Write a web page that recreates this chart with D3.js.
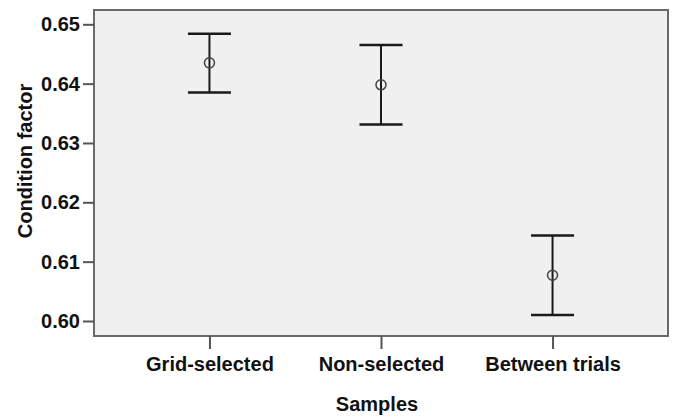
<!DOCTYPE html>
<html>
<head>
<meta charset="utf-8">
<script src="https://cdn.jsdelivr.net/npm/d3@7"></script>
<style>
  body { margin: 0; background: #fff; }
  text { font-family: "Liberation Sans", Arial, sans-serif; font-weight: bold; fill: #111; }
</style>
</head>
<body>
<svg id="chart" width="673" height="418"></svg>
<script>
// Mean condition factor with 95% CI per sample group.
var samples = ['Grid-selected', 'Non-selected', 'Between trials'];
var means = [0.6435, 0.6398, 0.6077];
var upper = [0.6484, 0.6465, 0.6144];
var lower = [0.6385, 0.6331, 0.6010];
var yTicks = [0.60, 0.61, 0.62, 0.63, 0.64, 0.65];

var svg = d3.select('#chart');
var plot = { left: 94, right: 668, top: 10, bottom: 336 };

var x = d3.scalePoint()
  .domain(samples)
  .range([plot.left, plot.right])
  .padding(0.673);

var y = d3.scaleLinear()
  .domain([0.60, 0.65])
  .range([321, 24.3]);

// Plot background and frame.
svg.append('rect')
  .attr('x', plot.left)
  .attr('y', plot.top)
  .attr('width', plot.right - plot.left)
  .attr('height', plot.bottom - plot.top)
  .attr('fill', '#f0f0f0')
  .attr('stroke', '#6a6a6a')
  .attr('stroke-width', 2);

// Left axis.
var yAxis = svg.append('g')
  .attr('transform', 'translate(' + plot.left + ',0)')
  .call(d3.axisLeft(y)
    .tickValues(yTicks)
    .tickSize(11)
    .tickPadding(3)
    .tickFormat(d3.format('.2f')));
yAxis.select('.domain').remove();
yAxis.selectAll('line').attr('stroke', '#555').attr('stroke-width', 2);
yAxis.selectAll('text').attr('font-size', 20).attr('fill', '#111')
  .style('font-family', '"Liberation Sans", Arial, sans-serif').style('font-weight', 'bold');

// Bottom axis.
var xAxis = svg.append('g')
  .attr('transform', 'translate(0,' + plot.bottom + ')')
  .call(d3.axisBottom(x).tickSize(13).tickPadding(8));
xAxis.select('.domain').remove();
xAxis.selectAll('line').attr('stroke', '#555').attr('stroke-width', 2);
xAxis.selectAll('text').attr('font-size', 20).attr('fill', '#111')
  .style('font-family', '"Liberation Sans", Arial, sans-serif').style('font-weight', 'bold');

// Axis titles.
svg.append('text')
  .attr('transform', 'translate(32,161) rotate(-90)')
  .attr('text-anchor', 'middle')
  .attr('font-size', 20)
  .text('Condition factor');

svg.append('text')
  .attr('x', 377)
  .attr('y', 411)
  .attr('text-anchor', 'middle')
  .attr('font-size', 20)
  .text('Samples');

// Error bars.
var capHalf = 21.5;
var bars = svg.append('g').selectAll('g')
  .data(samples)
  .enter().append('g');

bars.append('line')
  .attr('x1', function(d) { return x(d); })
  .attr('x2', function(d) { return x(d); })
  .attr('y1', function(d, i) { return y(upper[i]); })
  .attr('y2', function(d, i) { return y(lower[i]); })
  .attr('stroke', '#1a1a1a')
  .attr('stroke-width', 2);

bars.selectAll('line.cap')
  .data(function(d, i) { return [[d, upper[i]], [d, lower[i]]]; })
  .enter().append('line')
  .attr('class', 'cap')
  .attr('x1', function(d) { return x(d[0]) - capHalf; })
  .attr('x2', function(d) { return x(d[0]) + capHalf; })
  .attr('y1', function(d) { return y(d[1]); })
  .attr('y2', function(d) { return y(d[1]); })
  .attr('stroke', '#1a1a1a')
  .attr('stroke-width', 2.5);

bars.append('circle')
  .attr('cx', function(d) { return x(d); })
  .attr('cy', function(d, i) { return y(means[i]); })
  .attr('r', 5)
  .attr('fill', 'none')
  .attr('stroke', '#444')
  .attr('stroke-width', 1.5);
</script>
</body>
</html>
